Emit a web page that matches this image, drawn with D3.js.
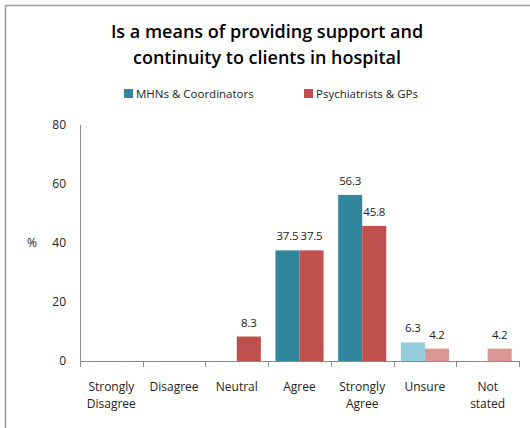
<!DOCTYPE html>
<html>
<head>
<meta charset="utf-8">
<script src="https://cdn.jsdelivr.net/npm/d3@7"></script>
<style>
  html, body { margin: 0; padding: 0; background: #fff; }
  svg { display: block; }
  text { font-family: "Open Sans", "Noto Sans", sans-serif; }
</style>
</head>
<body>
<svg id="chart" width="530" height="428"></svg>
<script>
// Survey responses (% of respondents)
const categories = ["Strongly Disagree", "Disagree", "Neutral", "Agree", "Strongly Agree", "Unsure", "Not stated"];
const categoryLines = [["Strongly", "Disagree"], ["Disagree"], ["Neutral"], ["Agree"], ["Strongly", "Agree"], ["Unsure"], ["Not", "stated"]];
const seriesNames = ["MHNs & Coordinators", "Psychiatrists & GPs"];
const mhnValues = [null, null, null, 37.5, 56.3, 6.3, null];
const psyValues = [null, null, 8.3, 37.5, 45.8, 4.2, 4.2];
const yTicks = [0, 20, 40, 60, 80];

const baseColors = ["#31859C", "#C0504D"];
const lightColors = ["#93CDDD", "#D99694"];
const lightCategories = ["Unsure", "Not stated"];

const svg = d3.select("#chart");

// frame
svg.append("path")
  .attr("d", "M5.5,430 V5.5 H530")
  .attr("fill", "none")
  .attr("stroke", "#9a9a9a")
  .attr("stroke-width", 1.5);

// title
const title = svg.append("text")
  .attr("text-anchor", "middle")
  .attr("font-size", 18)
  .attr("font-weight", 600)
  .attr("fill", "#000");
title.append("tspan").attr("x", 267).attr("y", 38).text("Is a means of providing support and");
title.append("tspan").attr("x", 267).attr("y", 64).text("continuity to clients in hospital");

// legend
const legendX = [124, 304];
seriesNames.forEach((name, i) => {
  svg.append("rect")
    .attr("x", legendX[i]).attr("y", 89)
    .attr("width", 9).attr("height", 9)
    .attr("fill", baseColors[i]);
  svg.append("text")
    .attr("x", legendX[i] + 12).attr("y", 97.5)
    .attr("font-size", 11.5)
    .attr("fill", "#222")
    .text(name);
});

const x0 = d3.scaleBand().domain(categories).range([80, 519]).paddingInner(0).paddingOuter(0);
const x1 = d3.scaleBand().domain([0, 1]).range([7.3, x0.bandwidth() - 7.3]);
const y = d3.scaleLinear().domain([0, 80]).range([361, 125]);

// y axis line
svg.append("line")
  .attr("x1", 80.5).attr("x2", 80.5)
  .attr("y1", y(80)).attr("y2", y(0))
  .attr("stroke", "#8c8c8c");

// y tick labels
svg.append("g").selectAll("text")
  .data(yTicks).join("text")
  .attr("x", 66).attr("y", d => y(d) + 4)
  .attr("text-anchor", "end")
  .attr("font-size", 12)
  .attr("fill", "#222")
  .text(d => d);

svg.append("text")
  .attr("x", 32).attr("y", y(40) + 4)
  .attr("text-anchor", "middle")
  .attr("font-size", 12)
  .attr("fill", "#222")
  .text("%");

// bars
const seriesValues = [mhnValues, psyValues];
const barGroup = svg.append("g");
seriesValues.forEach((vals, s) => {
  const data = categories.map((c, i) => ({ c, v: vals[i] })).filter(d => d.v !== null);
  barGroup.selectAll(null)
    .data(data).join("rect")
    .attr("x", d => x0(d.c) + x1(s))
    .attr("y", d => y(d.v))
    .attr("width", x1.bandwidth())
    .attr("height", d => y(0) - y(d.v))
    .attr("fill", d => lightCategories.includes(d.c) ? lightColors[s] : baseColors[s]);
  barGroup.selectAll(null)
    .data(data).join("text")
    .attr("x", d => x0(d.c) + x1(s) + x1.bandwidth() / 2)
    .attr("y", d => y(d.v) - 10)
    .attr("text-anchor", "middle")
    .attr("font-size", 11.5)
    .attr("letter-spacing", -0.2)
    .attr("fill", "#222")
    .text(d => d.v.toFixed(1));
});

// x axis line and ticks
svg.append("line")
  .attr("x1", 80).attr("x2", 519)
  .attr("y1", 361.5).attr("y2", 361.5)
  .attr("stroke", "#8c8c8c");
const boundaries = categories.map(c => x0(c)).concat([x0.range()[1]]);
svg.append("g").selectAll("line")
  .data(boundaries).join("line")
  .attr("x1", d => Math.round(d) + 0.5).attr("x2", d => Math.round(d) + 0.5)
  .attr("y1", 361).attr("y2", 367)
  .attr("stroke", "#8c8c8c");

// category labels
categories.forEach((c, i) => {
  const t = svg.append("text")
    .attr("text-anchor", "middle")
    .attr("font-size", 12)
    .attr("fill", "#222");
  categoryLines[i].forEach((line, j) => {
    t.append("tspan")
      .attr("x", x0(c) + x0.bandwidth() / 2)
      .attr("y", 391 + j * 17)
      .text(line);
  });
});
</script>
</body>
</html>
